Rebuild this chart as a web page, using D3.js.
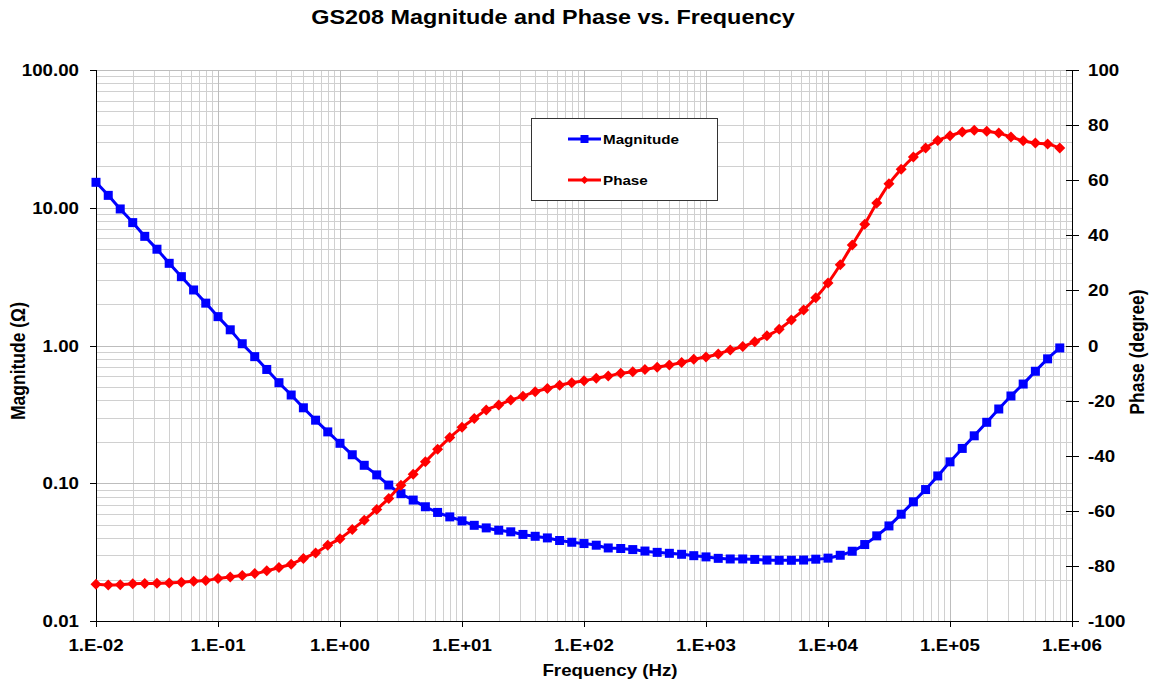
<!DOCTYPE html>
<html><head><meta charset="utf-8">
<script src="https://cdn.jsdelivr.net/npm/d3@7"></script>
<style>
body{margin:0;background:#fff;}
text{font-family:"Liberation Sans",Arial,sans-serif;font-weight:bold;fill:#000;}
</style>
</head><body>
<svg id="c" width="1151" height="686"></svg>
<script>
const freq = [
  0.01,0.0126,0.0158,0.02,0.0251,0.0316,0.0398,0.0501,0.0631,0.0794,
  0.1,0.126,0.158,0.2,0.251,0.316,0.398,0.501,0.631,0.794,
  1,1.26,1.58,2,2.51,3.16,3.98,5.01,6.31,7.94,
  10,12.6,15.8,20,25.1,31.6,39.8,50.1,63.1,79.4,
  100,126,158,200,251,316,398,501,631,794,
  1000,1260,1580,2000,2510,3160,3980,5010,6310,7940,
  10000,12600,15800,20000,25100,31600,39800,50100,63100,79400,
  100000,126000,158000,200000,251000,316000,398000,501000,631000,794000
];
const magnitude = [
  15.3,12.3,9.8,7.8,6.2,5.0,3.95,3.16,2.53,2.03,
  1.62,1.30,1.03,0.83,0.67,0.537,0.437,0.353,0.287,0.236,
  0.195,0.161,0.135,0.115,0.097,0.084,0.0755,0.0675,0.0614,0.057,
  0.0533,0.0495,0.0474,0.0456,0.0444,0.0425,0.0412,0.0401,0.0384,0.0373,
  0.0365,0.0355,0.0339,0.0336,0.0330,0.0322,0.0315,0.0310,0.0305,0.0298,
  0.0292,0.0285,0.0282,0.0282,0.0280,0.0277,0.0276,0.0276,0.0277,0.0281,
  0.0286,0.0300,0.0321,0.0359,0.0415,0.049,0.0596,0.0733,0.090,0.113,
  0.143,0.179,0.221,0.277,0.346,0.43,0.525,0.65,0.80,0.96
];
const phase = [
  -86.7,-86.9,-86.8,-86.5,-86.4,-86.3,-86.2,-85.9,-85.6,-85.3,
  -84.6,-84.0,-83.5,-82.8,-81.8,-80.6,-79.4,-77.3,-75.3,-72.5,
  -70.1,-66.8,-63.4,-59.5,-55.5,-50.7,-46.7,-42.2,-37.7,-33.4,
  -29.7,-26.5,-23.4,-21.6,-19.8,-18.4,-16.8,-15.6,-14.4,-13.5,
  -12.8,-11.9,-11.1,-10.1,-9.5,-8.7,-7.9,-7.1,-6.2,-5.0,
  -4.2,-3.1,-1.6,-0.4,1.4,3.5,5.9,9.3,12.9,17.3,
  22.7,29.3,36.5,44.0,51.7,58.7,64.0,68.4,71.7,74.4,
  76.1,77.5,78.1,77.8,77.1,75.7,74.3,73.5,73.1,71.7
];
const freqTicks = [1e-2,1e-1,1e0,1e1,1e2,1e3,1e4,1e5,1e6];
const freqTickLabels = ["1.E-02","1.E-01","1.E+00","1.E+01","1.E+02","1.E+03","1.E+04","1.E+05","1.E+06"];
const magTicks = [0.01,0.1,1,10,100];
const magTickLabels = ["0.01","0.10","1.00","10.00","100.00"];
const phaseTicks = [-100,-80,-60,-40,-20,0,20,40,60,80,100];
const seriesNames = ["Magnitude","Phase"];
const seriesColors = ["#0000ff","#ff0000"];

const L = 96, R = 1072, T = 70, B = 621;
const SX = 1.17;
const svg = d3.select("#c");
const x = d3.scaleLog().domain([1e-2,1e6]).range([L,R]);
const yM = d3.scaleLog().domain([0.01,100]).range([B,T]);
const yP = d3.scaleLinear().domain([-100,100]).range([B,T]);
const px = v => Math.round(v) + 0.5;

function txt(xp, yp, s, size, anchor, rot) {
  const t = svg.append("text")
    .attr("transform", `translate(${xp},${yp}) ${rot ? "rotate(" + rot + ") scale(1,1.12)" : "scale(" + SX + ",1)"}`)
    .attr("text-anchor", anchor)
    .style("font-size", size + "px")
    .text(s);
  return t;
}

const xMinor = [];
for (let e = -2; e < 6; e++) for (let m = 2; m <= 9; m++) xMinor.push(m * Math.pow(10, e));
const yMinor = [];
for (let e = -2; e < 2; e++) for (let m = 2; m <= 9; m++) yMinor.push(m * Math.pow(10, e));

const grid = svg.append("g").attr("shape-rendering","crispEdges");
grid.selectAll(".vm").data(xMinor).enter().append("line")
  .attr("x1", d => px(x(d))).attr("x2", d => px(x(d))).attr("y1", T).attr("y2", B)
  .attr("stroke", "#d0d0d0");
grid.selectAll(".hm").data(yMinor).enter().append("line")
  .attr("y1", d => px(yM(d))).attr("y2", d => px(yM(d))).attr("x1", L).attr("x2", R)
  .attr("stroke", "#d0d0d0");
grid.selectAll(".vM").data(freqTicks).enter().append("line")
  .attr("x1", d => px(x(d))).attr("x2", d => px(x(d))).attr("y1", T).attr("y2", B)
  .attr("stroke", "#bdbdbd");
grid.selectAll(".hM").data(magTicks).enter().append("line")
  .attr("y1", d => px(yM(d))).attr("y2", d => px(yM(d))).attr("x1", L).attr("x2", R)
  .attr("stroke", "#bdbdbd");

const ax = svg.append("g").attr("shape-rendering","crispEdges").attr("stroke","#000");
ax.append("line").attr("x1", px(L)).attr("x2", px(L)).attr("y1", T).attr("y2", B+1);
ax.append("line").attr("x1", px(R)).attr("x2", px(R)).attr("y1", T).attr("y2", B+1);
ax.append("line").attr("x1", L).attr("x2", R+1).attr("y1", px(B)).attr("y2", px(B));
ax.selectAll(".tl").data(magTicks).enter().append("line")
  .attr("x1", L-6).attr("x2", L).attr("y1", d => px(yM(d))).attr("y2", d => px(yM(d)));
ax.selectAll(".tb").data(freqTicks).enter().append("line")
  .attr("x1", d => px(x(d))).attr("x2", d => px(x(d))).attr("y1", B).attr("y2", B+6);
ax.selectAll(".tr").data(phaseTicks).enter().append("line")
  .attr("x1", R-6).attr("x2", R+7).attr("y1", d => px(yP(d))).attr("y2", d => px(yP(d)));

magTicks.forEach((d,i) => txt(79, yM(d) + 6, magTickLabels[i], 16, "end"));
freqTicks.forEach((d,i) => txt(x(d), 651, freqTickLabels[i], 16, "middle"));
phaseTicks.forEach(d => txt(1088, yP(d) + 6, String(d), 16, "start"));

txt(553, 24, "GS208 Magnitude and Phase vs. Frequency", 20, "middle");
txt(610, 676, "Frequency (Hz)", 16, "middle");
txt(25, 361, "Magnitude (\u03a9)", 17.5, "middle", -90);
txt(1144, 352, "Phase (degree)", 17.5, "middle", -90);

const magData = freq.map((f,i) => [f, magnitude[i]]);
const phData = freq.map((f,i) => [f, phase[i]]);
const lineM = d3.line().x(d => x(d[0])).y(d => yM(d[1])).curve(d3.curveMonotoneX);
const lineP = d3.line().x(d => x(d[0])).y(d => yP(d[1])).curve(d3.curveMonotoneX);

svg.append("path").datum(magData).attr("d", lineM).attr("fill","none")
  .attr("stroke", seriesColors[0]).attr("stroke-width", 3);
svg.append("g").selectAll("rect").data(magData).enter().append("rect")
  .attr("x", d => x(d[0]) - 4.5).attr("y", d => yM(d[1]) - 4.5)
  .attr("width", 9).attr("height", 9).attr("fill", seriesColors[0]);

svg.append("path").datum(phData).attr("d", lineP).attr("fill","none")
  .attr("stroke", seriesColors[1]).attr("stroke-width", 3);
svg.append("g").selectAll("path").data(phData).enter().append("path")
  .attr("d", "M0,-5.5L5.5,0L0,5.5L-5.5,0Z")
  .attr("transform", d => `translate(${x(d[0])},${yP(d[1])})`)
  .attr("fill", seriesColors[1]);

const lg = svg.append("g");
lg.append("rect").attr("x", 531.5).attr("y", 118.5).attr("width", 186).attr("height", 82)
  .attr("fill", "#fff").attr("stroke", "#333").attr("shape-rendering","crispEdges");
[139, 180].forEach((ly, i) => {
  lg.append("line").attr("x1", 568).attr("x2", 601).attr("y1", ly).attr("y2", ly)
    .attr("stroke", seriesColors[i]).attr("stroke-width", 3);
  if (i === 0) {
    lg.append("rect").attr("x", 584.5 - 4).attr("y", ly - 4).attr("width", 8).attr("height", 8)
      .attr("fill", seriesColors[0]);
  } else {
    lg.append("path").attr("d", "M0,-4L4,0L0,4L-4,0Z")
      .attr("transform", `translate(584.5,${ly})`).attr("fill", seriesColors[1]);
  }
  txt(603, ly + 5, seriesNames[i], 13, "start");
});
</script>
</body></html>
